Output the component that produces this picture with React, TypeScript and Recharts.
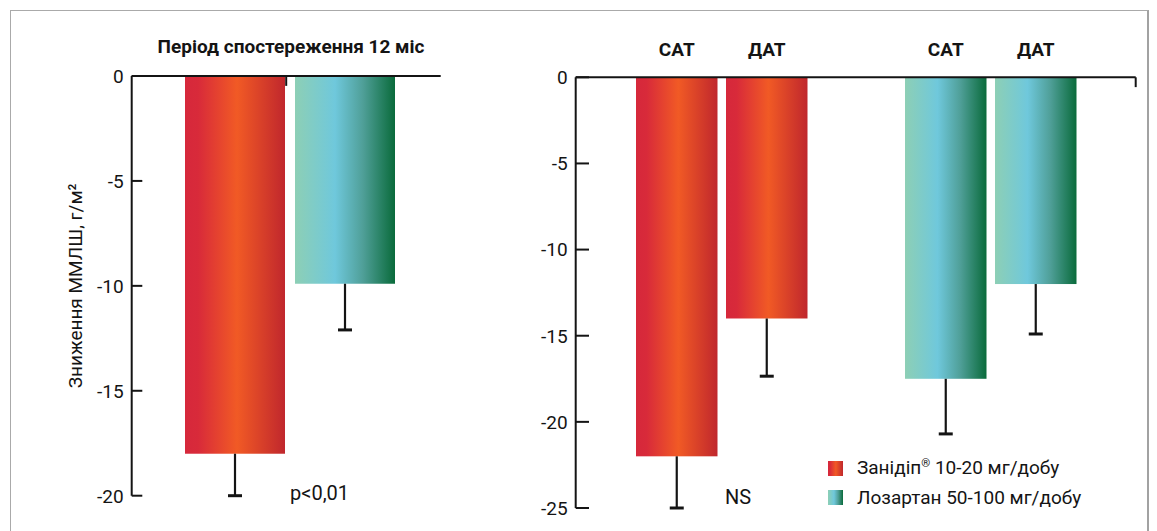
import React from "react";
import { BarChart, Bar, XAxis, YAxis, LabelList, Cell, ReferenceLine } from "recharts";

// text
const periodTitle = "Період спостереження 12 міс";
const yAxisTitle = "Зниження ММЛШ, г/м²";
const legendNames = ["Занідіп", "Лозартан 50-100 мг/добу"];
const legendDose = " 10-20 мг/добу";
const pNote = "p<0,01";
const nsNote = "NS";

// left panel — ММЛШ change after 12 months
const lvmiGroups = ["12 міс"];
const lvmiZanidip = [-18];
const lvmiZanidipErr = [2];
const lvmiLosartan = [-9.9];
const lvmiLosartanErr = [2.2];
const lvmiTicks = [0, -5, -10, -15, -20];

// right panel — САТ / ДАТ by drug
const bpMetrics = ["САТ", "ДАТ"];
const bpDrugs = ["Занідіп", "Лозартан"];
const bpSat = [-22, -17.5];
const bpSatErr = [3, 3.2];
const bpDat = [-14, -12];
const bpDatErr = [3.35, 2.9];
const bpTicks = [0, -5, -10, -15, -20, -25];

const FONT = "Roboto, 'DejaVu Sans', sans-serif";
const INK = "#141414";
const RED_STOPS: [string, string][] = [["0%", "#d6283b"], ["13%", "#d82a3a"], ["52%", "#f15a25"], ["100%", "#c0272d"]];
const TEAL_STOPS: [string, string][] = [["0%", "#8dcfb5"], ["40%", "#6fc8dc"], ["68%", "#4f9f98"], ["100%", "#0a6b3b"]];
const cssGrad = (stops: [string, string][]) =>
  `linear-gradient(90deg, ${stops.map(([o, c]) => `${c} ${o}`).join(", ")})`;

const lvmiData = lvmiGroups.map((g, i) => ({
  group: g,
  zanidip: lvmiZanidip[i],
  zanidipErr: lvmiZanidipErr[i],
  losartan: lvmiLosartan[i],
  losartanErr: lvmiLosartanErr[i],
}));

const bpData = bpDrugs.map((d, i) => ({
  drug: d,
  sat: bpSat[i],
  satErr: bpSatErr[i],
  dat: bpDat[i],
  datErr: bpDatErr[i],
}));

function Gradients() {
  return (
    <defs>
      <linearGradient id="gRed" x1="0" y1="0" x2="1" y2="0">
        {RED_STOPS.map(([o, c]) => <stop key={o} offset={o} stopColor={c} />)}
      </linearGradient>
      <linearGradient id="gTeal" x1="0" y1="0" x2="1" y2="0">
        {TEAL_STOPS.map(([o, c]) => <stop key={o} offset={o} stopColor={c} />)}
      </linearGradient>
    </defs>
  );
}

// bar rect plus a one-sided (downward) error whisker
function barWithError(errKey: string) {
  return (props: any) => {
    const { x, y, width, height, fill, payload, value } = props;
    const top = Math.min(y, y + height);
    const h = Math.abs(height);
    const bottom = top + h;
    const v = Math.abs(Array.isArray(value) ? value[1] - value[0] : value);
    const err = v ? (payload[errKey] * h) / v : 0;
    const cx = x + width / 2;
    return (
      <g>
        <rect x={x} y={top} width={width} height={h} fill={fill} />
        <line x1={cx} x2={cx} y1={bottom} y2={bottom + err} stroke={INK} strokeWidth={2.2} />
        <line x1={cx - 7} x2={cx + 7} y1={bottom + err} y2={bottom + err} stroke={INK} strokeWidth={3} />
      </g>
    );
  };
}

function insideTick(len: number) {
  return (props: any) => {
    const { x, y, payload } = props;
    return (
      <g>
        <line x1={x + 8} x2={x + 8 + len} y1={y} y2={y} stroke={INK} strokeWidth={2} />
        <text x={x} y={y} dy="0.36em" textAnchor="end" fontSize={19} fill={INK} fontFamily={FONT}>
          {payload.value}
        </text>
      </g>
    );
  };
}

function metricLabel(text: string) {
  return (p: any) => (
    <text
      x={p.x + p.width / 2}
      y={Math.min(p.y, p.y + p.height) - 28}
      dy="0.36em"
      textAnchor="middle"
      fontSize={19}
      fontWeight={700}
      fill={INK}
      fontFamily={FONT}
    >
      {text}
    </text>
  );
}

const axisStroke = { stroke: INK, strokeWidth: 2 };

function FrameAxis() {
  return (
    <XAxis
      xAxisId="frame"
      type="number"
      domain={[0, 1]}
      ticks={[1]}
      orientation="top"
      mirror
      tick={false}
      tickLine={false}
      axisLine={axisStroke}
      allowDataOverflow
    />
  );
}

function LvmiChart() {
  return (
    <BarChart
      width={460}
      height={531}
      data={lvmiData}
      margin={{ top: 76, right: 19.3, bottom: 35.3, left: 18.3 }}
      barSize={100}
      barGap={10}
    >
      <Gradients />
      <XAxis dataKey="group" hide padding={{ left: 8.3, right: 0 }} />
      {FrameAxis()}
      <YAxis
        width={113.4}
        domain={[-20, 0]}
        ticks={lvmiTicks}
        interval={0}
        tickSize={0}
        tickMargin={8}
        tickLine={false}
        axisLine={axisStroke}
        tick={insideTick(10.6)}
        label={{ value: yAxisTitle, angle: -90, position: "center", fontSize: 19, fill: INK, fontFamily: FONT }}
      />
      <ReferenceLine
        xAxisId="frame"
        segment={[{ x: 1, y: 0 }, { x: 1, y: -0.47 }]}
        stroke={INK}
        strokeWidth={2}
        ifOverflow="visible"
      />
      <Bar dataKey="zanidip" fill="url(#gRed)" shape={barWithError("zanidipErr")} isAnimationActive={false} />
      <Bar dataKey="losartan" fill="url(#gTeal)" shape={barWithError("losartanErr")} isAnimationActive={false} />
    </BarChart>
  );
}

function BpChart() {
  const fills = ["url(#gRed)", "url(#gTeal)"];
  return (
    <BarChart
      width={677}
      height={531}
      data={bpData}
      margin={{ top: 77.3, right: 21.3, bottom: 23, left: 35.7 }}
      barSize={81.5}
      barGap={8.5}
    >
      <Gradients />
      <XAxis dataKey="drug" hide padding={{ left: 11.3, right: 10.7 }} />
      {FrameAxis()}
      <YAxis
        width={60}
        domain={[-25, 0]}
        ticks={bpTicks}
        interval={0}
        tickSize={0}
        tickMargin={8}
        tickLine={false}
        axisLine={axisStroke}
        tick={insideTick(13.3)}
      />
      <ReferenceLine
        xAxisId="frame"
        segment={[{ x: 1, y: 0 }, { x: 1, y: -0.57 }]}
        stroke={INK}
        strokeWidth={2}
        ifOverflow="visible"
      />
      <Bar dataKey="sat" shape={barWithError("satErr")} isAnimationActive={false}>
        {bpData.map((_, i) => <Cell key={i} fill={fills[i]} />)}
        <LabelList dataKey="sat" content={metricLabel(bpMetrics[0])} />
      </Bar>
      <Bar dataKey="dat" shape={barWithError("datErr")} isAnimationActive={false}>
        {bpData.map((_, i) => <Cell key={i} fill={fills[i]} />)}
        <LabelList dataKey="dat" content={metricLabel(bpMetrics[1])} />
      </Bar>
    </BarChart>
  );
}

const abs = (left: number, top: number, extra: React.CSSProperties = {}): React.CSSProperties => ({
  position: "absolute",
  left,
  top,
  ...extra,
});

export default function App() {
  const textStyle: React.CSSProperties = { fontFamily: FONT, color: INK, fontSize: 19, lineHeight: "24px", whiteSpace: "nowrap" };
  return (
    <div style={abs(0, 0, { width: 1157, height: 531, overflow: "hidden", background: "#fff", fontFamily: FONT })}>
      <div
        style={abs(10, 10, {
          width: 1136,
          height: 600,
          borderTop: "1.5px solid #aaaaaa",
          borderLeft: "1.5px solid #aaaaaa",
          borderRight: "2px solid #a2a2a2",
        })}
      />
      <div style={abs(0, 0)}>
        <LvmiChart />
      </div>
      <div style={abs(480, 0)}>
        <BpChart />
      </div>
      <div style={abs(291 - 200, 47 - 12, { ...textStyle, width: 400, textAlign: "center", fontWeight: 700 })}>
        {periodTitle}
      </div>
      <div style={abs(290, 493 - 12, { ...textStyle, fontSize: 20 })}>{pNote}</div>
      <div style={abs(725, 497 - 12, { ...textStyle, fontSize: 20 })}>{nsNote}</div>
      {legendNames.map((name, i) => (
        <div key={name} style={abs(828, 468 - 12 + i * 29.5, { ...textStyle, display: "flex", alignItems: "center" })}>
          <span
            style={{
              display: "inline-block",
              width: 15,
              height: 15,
              marginRight: 14,
              background: cssGrad(i === 0 ? RED_STOPS : TEAL_STOPS),
            }}
          />
          <span>
            {name}
            {i === 0 && (
              <>
                <sup style={{ fontSize: "0.6em", lineHeight: 0 }}>®</sup>
                {legendDose}
              </>
            )}
          </span>
        </div>
      ))}
    </div>
  );
}
